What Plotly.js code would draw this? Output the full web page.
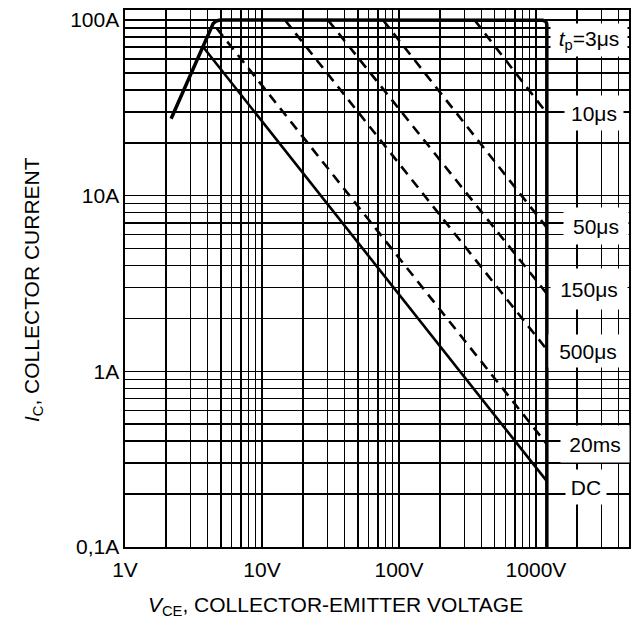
<!DOCTYPE html>
<html>
<head>
<meta charset="utf-8">
<script src="https://cdn.plot.ly/plotly-3.0.1.min.js"></script>
<style>
html,body{margin:0;padding:0;background:#fff;}
#chart{width:631px;height:621px;}
</style>
</head>
<body>
<div id="chart"></div>
<script>
// ---- data (V in volts, I in amperes) ----
const envelopeV = [2.17, 4.4, 4.62, 4.85, 5.2, 1030, 1120, 1170, 1195, 1200, 1200];
const envelopeI = [27.4, 95.5, 98.6, 99.7, 100, 100, 99.7, 98.5, 96, 93, 0.1];

const pulseNames  = ["10μs", "50μs", "150μs", "500μs", "20ms", "DC"];
const pulseStartV = [356, 76.4, 30.3, 14.7, 4.67, 3.77];
const pulseStartI = [100, 100, 100, 100, 89.7, 69.3];
const pulseEndV   = [1200, 1200, 1200, 1200, 1200, 1200];
const pulseEndI   = [29.5, 6.58, 2.77, 1.33, 0.385, 0.237];

const xLabelVals = [1, 10, 100, 1000];
const xLabelText = ["1V", "10V", "100V", "1000V"];
const xMinorVals = [2,3,4,5,6,7,8,9,20,30,40,50,60,70,80,90,200,300,400,500,600,700,800,900,2000,3000,4000];

const yLabelVals = [0.1, 1, 10, 100];
const yLabelText = ["0,1A", "1A", "10A", "100A"];
const yMinorVals = [0.2,0.3,0.4,0.5,0.6,0.7,0.8,0.9,2,3,4,5,6,7,8,9,20,30,40,50,60,70,80,90];

const labelTexts = ["<i>t</i><sub>p</sub>=3μs", "10μs", "50μs", "150μs", "500μs", "20ms", "DC"];

// ---- build ----
const traces = [];
traces.push({
  x: envelopeV, y: envelopeI, mode: "lines", type: "scatter",
  line: {color: "#000", width: 3.5, shape: "linear"}, hoverinfo: "skip"
});
pulseNames.forEach((n, i) => {
  traces.push({
    x: [pulseStartV[i], pulseEndV[i]], y: [pulseStartI[i], pulseEndI[i]],
    mode: "lines", type: "scatter", name: n,
    line: {color: "#000", width: 2.6, dash: n === "DC" ? "solid" : "10px,7px"},
    hoverinfo: "skip"
  });
});

const L = 125, R = 629, T = 10, B = 547;
const pw = R - L, ph = B - T;
const xr = [0, 3.679], yr = [-1, 2.057];
function px2x(p) { return xr[0] + (p - L) / pw * (xr[1] - xr[0]); }
function py2y(p) { return yr[1] - (p - T) / ph * (yr[1] - yr[0]); }

// label boxes: [centerX px, centerY px, width, height]
const boxes = [
  [589, 40, 76, 32],
  [594, 113, 58, 34],
  [595.5, 226, 64, 36],
  [589, 289, 76, 40],
  [588, 351, 78, 32],
  [595, 443.5, 68, 36],
  [585.5, 487, 40, 34]
];
const fontFam = "Liberation Sans, Arial, sans-serif";
const annotations = boxes.map((b, i) => ({
  x: px2x(b[0]), y: py2y(b[1]), xref: "x", yref: "y",
  text: labelTexts[i], showarrow: false,
  xanchor: "center", yanchor: "middle",
  width: b[2], height: b[3], bgcolor: "#fff", borderpad: 0,
  font: {family: fontFam, size: 21, color: "#000"}
}));
annotations.push({
  xref: "paper", yref: "paper", x: (335 - L) / pw, y: (B - 606) / ph,
  xanchor: "center", yanchor: "middle", showarrow: false,
  text: "<i>V</i><sub>CE</sub>, COLLECTOR-EMITTER VOLTAGE",
  font: {family: fontFam, size: 21, color: "#000"}
});
annotations.push({
  xref: "paper", yref: "paper", x: (33 - L) / pw, y: (B - 290) / ph,
  xanchor: "center", yanchor: "middle", showarrow: false, textangle: -90,
  text: "<i>I</i><sub>C</sub>, COLLECTOR CURRENT",
  font: {family: fontFam, size: 21, color: "#000"}
});

const gridW = 1.5;
const layout = {
  width: 631, height: 621,
  margin: {l: L, r: 631 - R, t: T, b: 621 - B, pad: 0},
  paper_bgcolor: "#fff", plot_bgcolor: "#fff",
  showlegend: false,
  font: {family: fontFam, size: 21, color: "#000"},
  xaxis: {
    type: "log", range: xr, tickmode: "array",
    tickvals: xLabelVals, ticktext: xLabelText,
    showgrid: true, gridcolor: "#000", gridwidth: gridW,
    minor: {tickmode: "array", tickvals: xMinorVals, showgrid: true, gridcolor: "#000", gridwidth: gridW, ticks: ""},
    showline: true, mirror: true, linecolor: "#000", linewidth: 1.6,
    ticks: "", ticklabelstandoff: 3, zeroline: false, fixedrange: true,
    tickfont: {family: fontFam, size: 21, color: "#000"}
  },
  yaxis: {
    type: "log", range: yr, tickmode: "array",
    tickvals: yLabelVals, ticktext: yLabelText,
    showgrid: true, gridcolor: "#000", gridwidth: gridW,
    minor: {tickmode: "array", tickvals: yMinorVals, showgrid: true, gridcolor: "#000", gridwidth: gridW, ticks: ""},
    showline: true, mirror: true, linecolor: "#000", linewidth: 1.6,
    ticks: "", ticklabelstandoff: 0, zeroline: false, fixedrange: true,
    tickfont: {family: fontFam, size: 21, color: "#000"}
  },
  annotations: annotations
};

Plotly.newPlot("chart", traces, layout, {staticPlot: true, displayModeBar: false});
</script>
</body>
</html>
